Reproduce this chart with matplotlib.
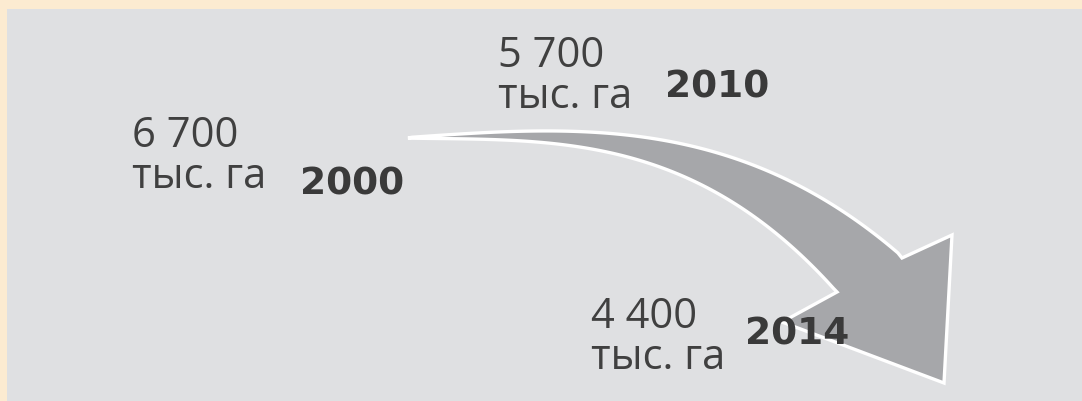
import numpy as np
import matplotlib
matplotlib.use("Agg")
import matplotlib.pyplot as plt
from matplotlib.patches import Rectangle, Polygon

# data
years = ["2000", "2010", "2014"]
areas = ["6 700", "5 700", "4 400"]
unit = "тыс. га"

# label anchors in pixel space (left, baseline of first line), year anchor
label_pos = [(132, 147), (498, 67), (591, 328)]
year_pos = [(300, 195), (665, 97), (745, 345)]

# arrow outline points (pixel space)
upper_x = [408, 500, 600, 700, 773, 860, 902]
upper_y = [139, 132, 133, 152, 173, 222, 259]
lower_x = [408, 500, 567, 640, 707, 773, 837]
lower_y = [139, 141.5, 145, 163, 187, 233, 293]
head = [(952, 236), (944, 384), (782, 323)]


def smooth_edge(xs, ys, n=120):
    c = np.polyfit(xs, ys, 3)
    xx = np.linspace(xs[0], xs[-1], n)
    yy = np.polyval(c, xx)
    yy[0], yy[-1] = ys[0], ys[-1]
    return np.column_stack([xx, yy])


fig = plt.figure(figsize=(10.82, 4.02), dpi=100, facecolor="#FCEBD1")
ax = fig.add_axes([0, 0, 1, 1])
ax.set_xlim(0, 1082)
ax.set_ylim(402, 0)
ax.axis("off")

ax.add_patch(Rectangle((7, 10), 1075, 392, facecolor="#DFE0E2", edgecolor="none", zorder=0))

up = smooth_edge(upper_x, upper_y)
low = smooth_edge(lower_x, lower_y)[::-1]
outline = np.vstack([up, np.array(head), low])
ax.add_patch(Polygon(outline, closed=True, facecolor="#A6A7AA", edgecolor="white",
                     linewidth=2.4, joinstyle="miter", zorder=1))

for (x, y), a in zip(label_pos, areas):
    ax.text(x, y, a, family="Open Sans", fontsize=30, color="#404040",
            ha="left", va="baseline", zorder=3)
    ax.text(x, y + 41, unit, family="Open Sans", fontsize=30, color="#404040",
            ha="left", va="baseline", zorder=3)

for (x, y), yr in zip(year_pos, years):
    ax.text(x, y, yr, family="DejaVu Sans", fontweight="bold", fontsize=27,
            color="#3A3A3A", ha="left", va="baseline", zorder=3)

fig.savefig("out.png", dpi=100, facecolor=fig.get_facecolor())
